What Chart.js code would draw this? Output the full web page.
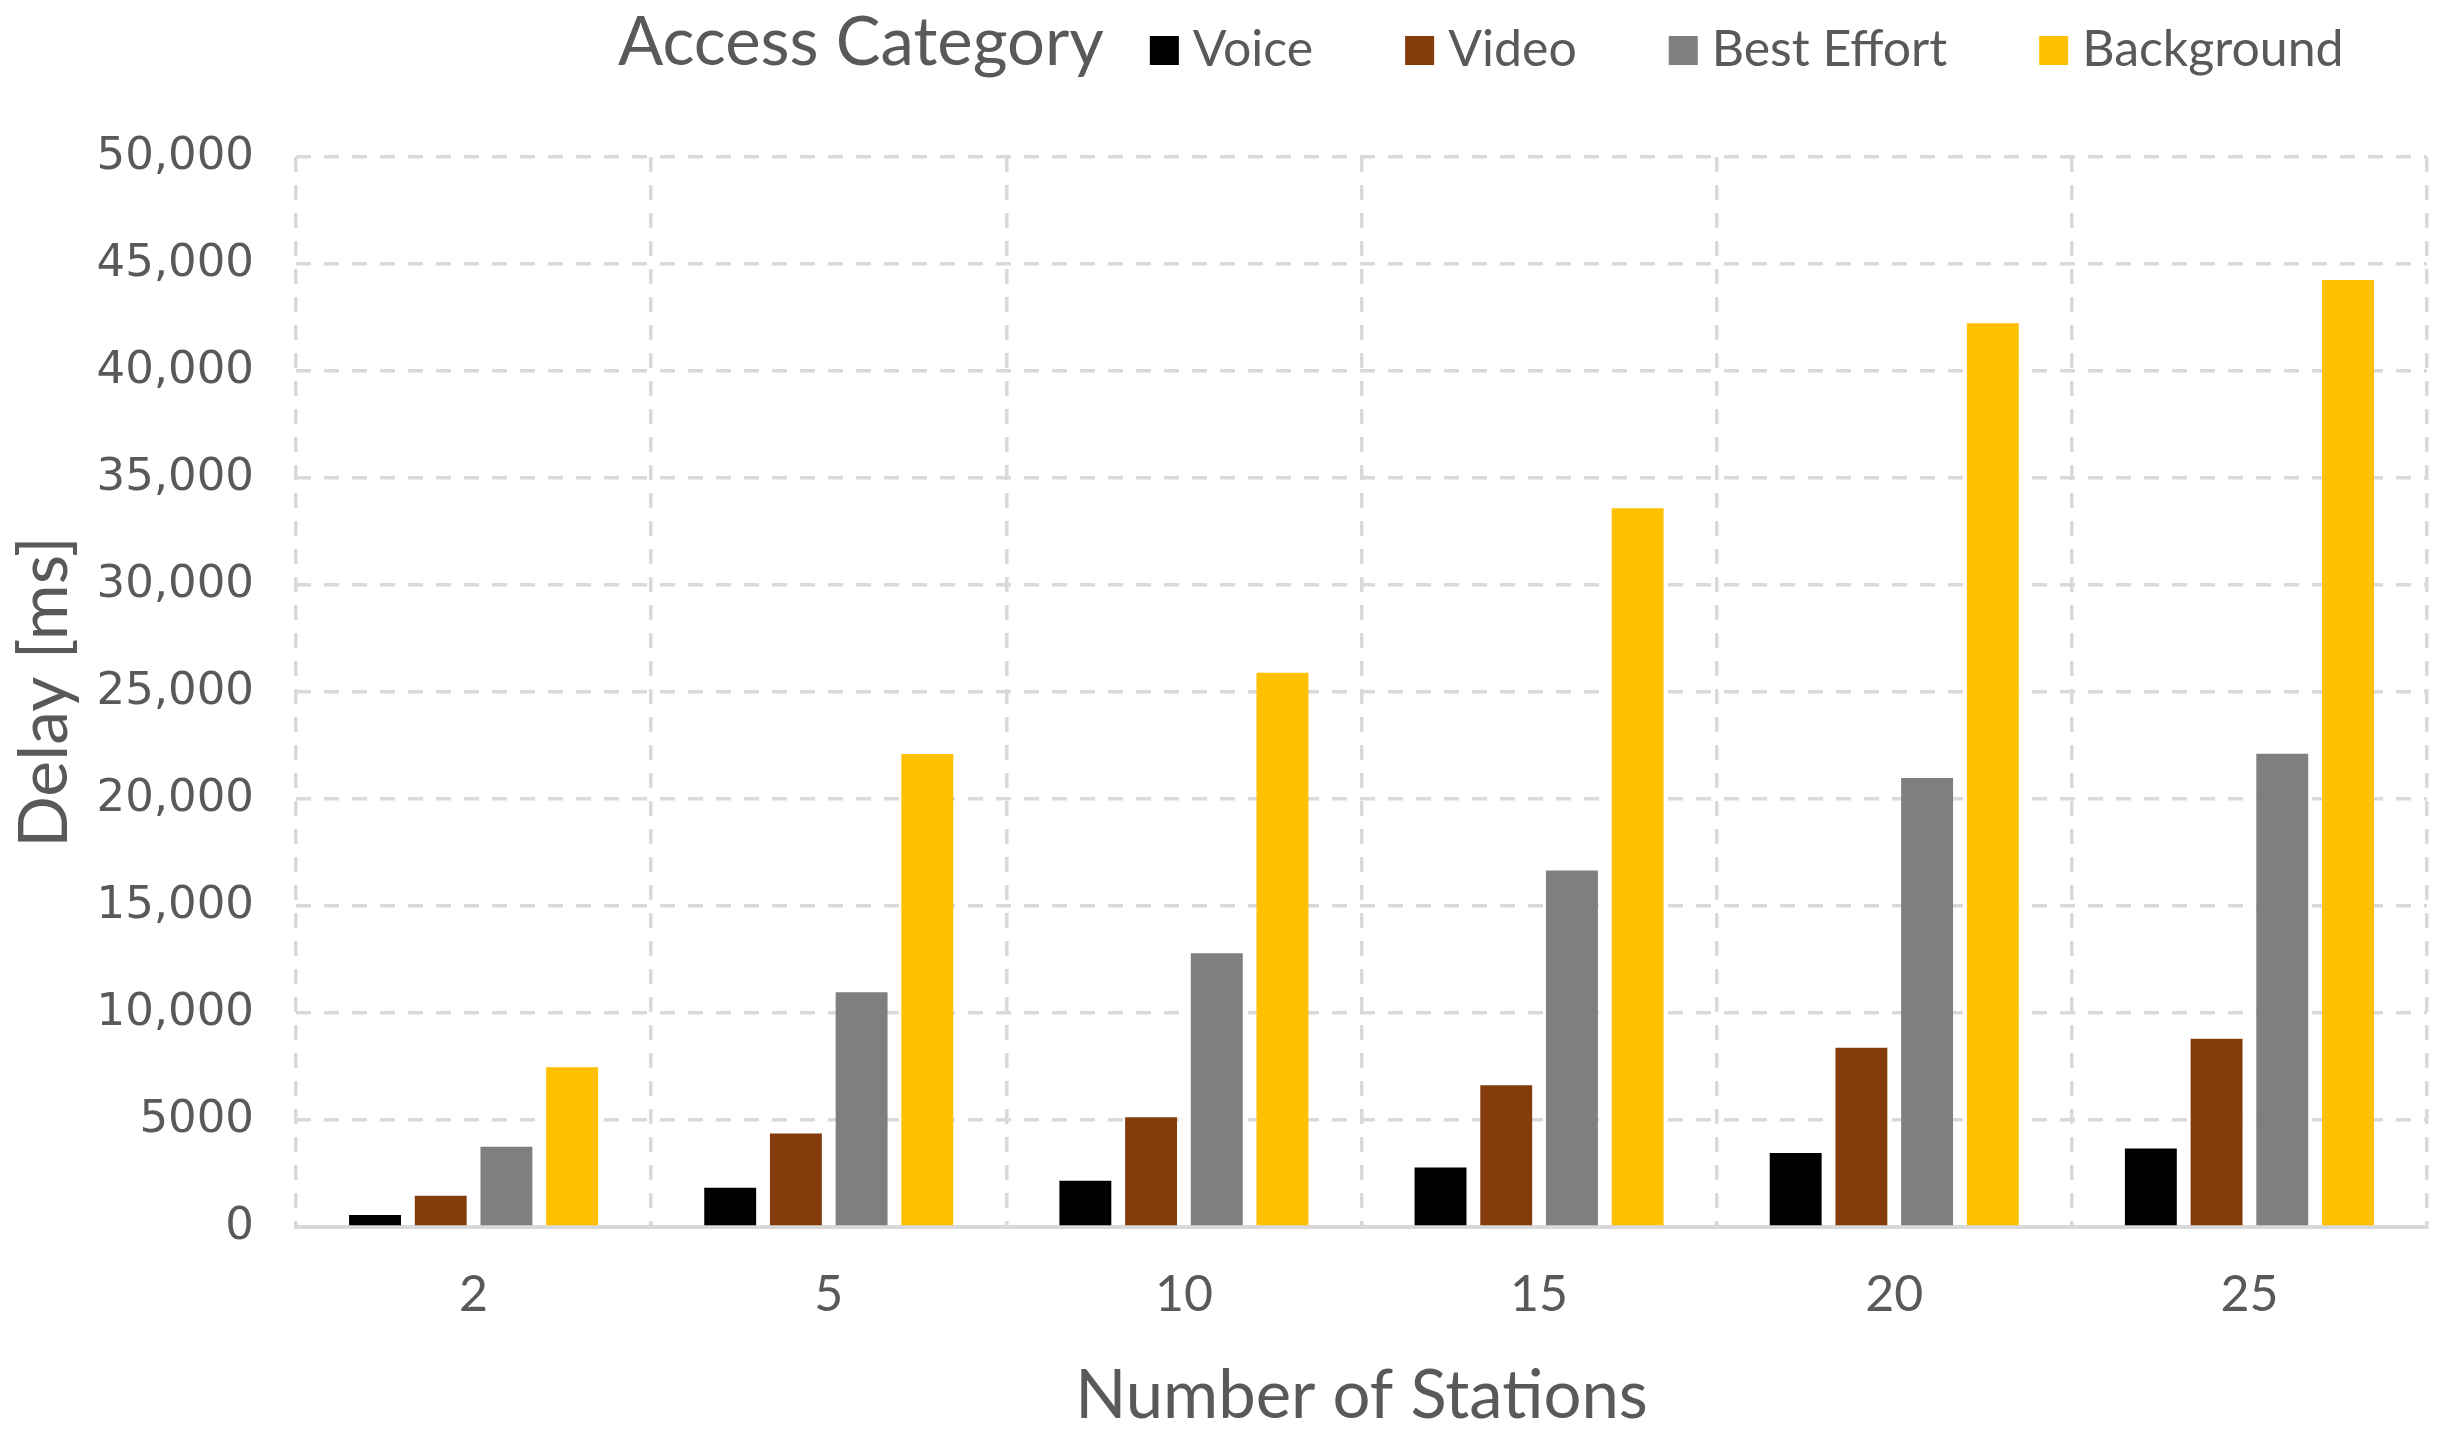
<!DOCTYPE html>
<html>
<head>
<meta charset="utf-8">
<script src="https://cdn.jsdelivr.net/npm/chart.js@4.4.1/dist/chart.umd.min.js"></script>
<style>
    html, body { margin: 0; padding: 0; background: #ffffff; }
    #wrap { width: 2444px; height: 1441px; }
</style>
</head>
<body>
<div id="wrap"><canvas id="barChart" width="2444" height="1441"></canvas></div>
<script>
const stations = ['2', '5', '10', '15', '20', '25'];
const voiceDelay = [560, 1830, 2160, 2780, 3460, 3670];
const videoDelay = [1455, 4370, 5130, 6620, 8380, 8800];
const bestEffortDelay = [3750, 10970, 12790, 16660, 20980, 22110];
const backgroundDelay = [7460, 22100, 25900, 33590, 42230, 44250];
const seriesNames = ['Voice', 'Video', 'Best Effort', 'Background'];
const seriesColors = ['#000000', '#843c0c', '#7f7f7f', '#ffc000'];

const textColor = '#595959';
const gridColor = '#d9d9d9';
const calibriLike = 'Lato, "Open Sans", sans-serif';

// legend drawn on one line: title + items, like the office chart
const inlineLegend = {
    id: 'inlineLegend',
    afterDraw(chart) {
        const ctx = chart.ctx;
        ctx.save();
        ctx.textBaseline = 'alphabetic';
        ctx.textAlign = 'left';
        ctx.fillStyle = textColor;
        ctx.font = '67px ' + calibriLike;
        let x = 618;
        ctx.fillText('Access Category', x, 65);
        x += ctx.measureText('Access Category').width + 46;

        ctx.font = '50px ' + calibriLike;
        chart.data.datasets.forEach((ds, i) => {
            ctx.fillStyle = ds.backgroundColor;
            ctx.fillRect(x, 36, 29, 29);
            x += 29 + 14;
            ctx.fillStyle = textColor;
            ctx.fillText(ds.label, x, 66);
            x += ctx.measureText(ds.label).width + 92;
        });
        ctx.restore();
    }
};

const datasets = [voiceDelay, videoDelay, bestEffortDelay, backgroundDelay].map((values, i) => ({
    label: seriesNames[i],
    data: values,
    backgroundColor: seriesColors[i],
    borderWidth: 0,
    categoryPercentage: 0.74,
    barPercentage: 0.79
}));

new Chart(document.getElementById('barChart'), {
    type: 'bar',
    data: {
        labels: stations,
        datasets: datasets
    },
    options: {
        responsive: false,
        animation: false,
        layout: {
            padding: { top: 157, right: 17, left: 0, bottom: 0 }
        },
        plugins: {
            legend: { display: false },
            tooltip: { enabled: false }
        },
        scales: {
            x: {
                grid: {
                    offset: true,
                    color: gridColor,
                    lineWidth: 3.5,
                    drawTicks: false
                },
                border: {
                    display: true,
                    color: gridColor,
                    width: 4,
                    dash: [15, 13]
                },
                ticks: {
                    color: textColor,
                    padding: 38,
                    font: { family: calibriLike, size: 50 }
                },
                title: {
                    display: true,
                    text: 'Number of Stations',
                    color: textColor,
                    padding: { top: 0, bottom: 4 },
                    font: { family: calibriLike, size: 67 }
                },
                afterFit(scale) {
                    scale.height = 214;
                }
            },
            y: {
                min: 0,
                max: 50000,
                ticks: {
                    stepSize: 5000,
                    color: textColor,
                    padding: 42,
                    font: { family: '"DejaVu Sans", sans-serif', size: 45 },
                    callback: (value) => value >= 10000 ? value.toLocaleString('en-US') : String(value)
                },
                grid: {
                    color: gridColor,
                    lineWidth: 3.5,
                    drawTicks: false
                },
                border: {
                    display: false,
                    dash: [15, 13]
                },
                title: {
                    display: true,
                    text: 'Delay [ms]',
                    color: textColor,
                    padding: { top: 4, bottom: 0 },
                    font: { family: calibriLike, size: 68 }
                },
                afterFit(scale) {
                    scale.width = 296;
                }
            }
        }
    },
    plugins: [inlineLegend]
});
</script>
</body>
</html>
